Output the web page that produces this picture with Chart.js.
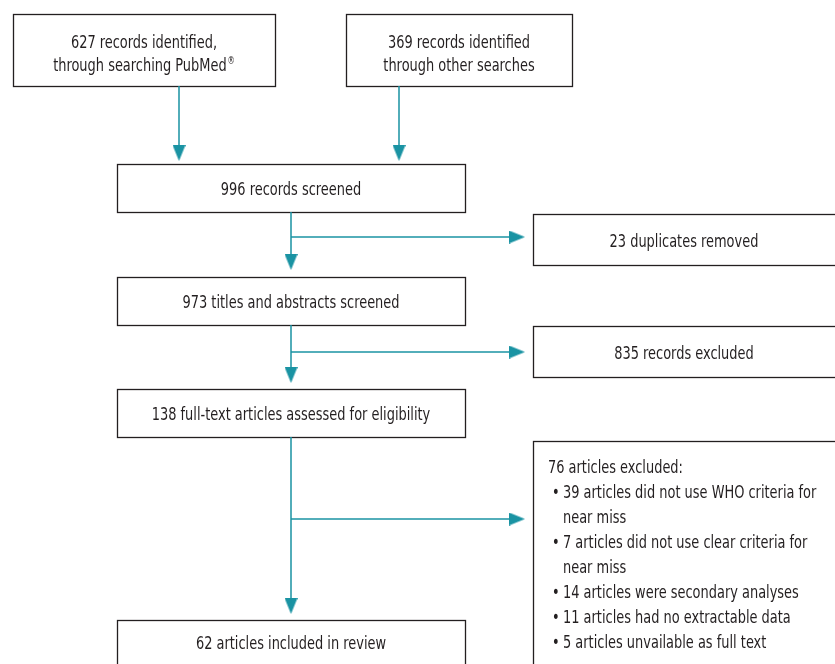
<!DOCTYPE html>
<html>
<head>
<meta charset="utf-8">
<script src="https://cdn.jsdelivr.net/npm/chart.js@4/dist/chart.umd.min.js"></script>
<style>
  body { margin: 0; background: #fff; }
  .wrap { width: 835px; height: 664px; position: relative; }
</style>
</head>
<body>
<div class="wrap"><canvas id="flow"></canvas></div>
<script>
// counts
const identified = [627, 369];
const screened = 996;
const duplicates = 23;
const titlesScreened = 973;
const recordsExcluded = 835;
const fullText = 138;
const articlesExcluded = 76;
const exclusionCounts = [39, 7, 14, 11, 5];
const exclusionReasons = [
  ['articles did not use WHO criteria for', 'near miss'],
  ['articles did not use clear criteria for', 'near miss'],
  ['articles were secondary analyses'],
  ['articles had no extractable data'],
  ['articles unvailable as full text']
];
const included = 62;

const ink = '#231f20';
const teal = '#1a93a3';
const family = '"Liberation Sans Narrow", "DejaVu Sans Condensed", sans-serif';
const font = '18px ' + family;
const squeeze = 0.8; // the original uses a condensed face
const textDy = 2;

// box layout in chart units (x 0..835, y 0..664 top-down)
const boxes = [
  { x0: 13, y0: 14, x1: 275, y1: 86, lines: [identified[0] + ' records identified,', 'through searching PubMed'], sup: [null, '\u00ae'], ly: [41, 64] },
  { x0: 346, y0: 14, x1: 572, y1: 86, lines: [identified[1] + ' records identified', 'through other searches'], ly: [41, 64] },
  { x0: 117, y0: 164, x1: 465, y1: 212, lines: [screened + ' records screened'], ly: [188] },
  { x0: 533, y0: 214, x1: 840, y1: 265, lines: [duplicates + ' duplicates removed'], ly: [240] },
  { x0: 117, y0: 277, x1: 465, y1: 325, lines: [titlesScreened + ' titles and abstracts screened'], ly: [301] },
  { x0: 533, y0: 326, x1: 840, y1: 377, lines: [recordsExcluded + ' records excluded'], ly: [352] },
  { x0: 117, y0: 389, x1: 465, y1: 437, lines: [fullText + ' full-text articles assessed for eligibility'], ly: [413] },
  { x0: 533, y0: 441, x1: 840, y1: 670, list: true },
  { x0: 117, y0: 620, x1: 465, y1: 670, lines: [included + ' articles included in review'], ly: [642] }
];

// connector segments and arrow tips
const connectors = [
  [[179, 86], [179, 150]],
  [[399, 86], [399, 150]],
  [[291, 212], [291, 258]],
  [[291, 237], [514, 237]],
  [[291, 325], [291, 371]],
  [[291, 352], [514, 352]],
  [[291, 437], [291, 603]],
  [[291, 519], [514, 519]]
];
const tipsDown = [[179, 161], [399, 161], [291, 270], [291, 383], [291, 614]];
const tipsRight = [[525, 237], [525, 352], [525, 519]];
const headLen = 16, headW = 13;

function arrowHead(dir) {
  const c = document.createElement('canvas');
  c.width = dir === 'down' ? headW : headLen;
  c.height = dir === 'down' ? headLen : headW;
  const g = c.getContext('2d');
  g.fillStyle = teal;
  g.beginPath();
  if (dir === 'down') {
    g.moveTo(0, 0); g.lineTo(headW, 0); g.lineTo(headW / 2, headLen);
  } else {
    g.moveTo(0, 0); g.lineTo(headLen, headW / 2); g.lineTo(0, headW);
  }
  g.closePath();
  g.fill();
  return c;
}

const datasets = connectors.map(seg => ({
  type: 'line',
  data: seg.map(p => ({ x: p[0], y: p[1] })),
  borderColor: teal,
  borderWidth: 1.5,
  pointRadius: 0,
  fill: false
}));
datasets.push({
  type: 'scatter',
  data: tipsDown.map(p => ({ x: p[0], y: p[1] - headLen / 2 })),
  pointStyle: arrowHead('down'),
  pointRadius: headLen / 2
});
datasets.push({
  type: 'scatter',
  data: tipsRight.map(p => ({ x: p[0] - headLen / 2, y: p[1] })),
  pointStyle: arrowHead('right'),
  pointRadius: headLen / 2
});

function squeezedText(ctx, text, px, py, align, sup) {
  let w = ctx.measureText(text).width * squeeze;
  let supW = 0;
  if (sup) {
    ctx.save();
    ctx.font = '10px ' + family;
    supW = ctx.measureText(sup).width * squeeze + 1;
    ctx.restore();
  }
  let left = px;
  if (align === 'center') left = px - (w + supW) / 2;
  ctx.save();
  ctx.translate(left, py + textDy);
  ctx.scale(squeeze, 1);
  ctx.fillText(text, 0, 0);
  if (sup) {
    ctx.font = '10px ' + family;
    ctx.fillText(sup, w / squeeze + 1, -5);
  }
  ctx.restore();
}

const boxPlugin = {
  id: 'boxes',
  beforeDatasetsDraw(chart) {
    const { ctx, scales: { x, y } } = chart;
    ctx.save();
    ctx.lineWidth = 1.3;
    ctx.strokeStyle = ink;
    ctx.fillStyle = ink;
    ctx.font = font;
    ctx.textBaseline = 'middle';
    ctx.textAlign = 'left';
    boxes.forEach(b => {
      const px0 = x.getPixelForValue(b.x0), px1 = x.getPixelForValue(b.x1);
      const py0 = y.getPixelForValue(b.y0), py1 = y.getPixelForValue(b.y1);
      ctx.strokeRect(Math.round(px0) + 0.5, Math.round(py0) + 0.5, Math.round(px1 - px0), Math.round(py1 - py0));
      if (b.list) {
        let row = 466;
        squeezedText(ctx, articlesExcluded + ' articles excluded:', x.getPixelForValue(548), y.getPixelForValue(row), 'left');
        exclusionCounts.forEach((n, i) => {
          row += 25;
          squeezedText(ctx, '\u2022', x.getPixelForValue(552), y.getPixelForValue(row), 'left');
          exclusionReasons[i].forEach((t, j) => {
            if (j > 0) row += 25;
            squeezedText(ctx, j === 0 ? n + ' ' + t : t, x.getPixelForValue(563), y.getPixelForValue(row), 'left');
          });
        });
      } else {
        const cx = x.getPixelForValue((b.x0 + Math.min(b.x1, 835)) / 2);
        b.lines.forEach((t, i) => squeezedText(ctx, t, cx, y.getPixelForValue(b.ly[i]), 'center', b.sup ? b.sup[i] : null));
      }
    });
    ctx.restore();
  }
};

new Chart(document.getElementById('flow'), {
  type: 'scatter',
  data: { datasets },
  options: {
    responsive: true,
    maintainAspectRatio: false,
    animation: false,
    layout: { padding: 0, autoPadding: false },
    plugins: { legend: { display: false }, tooltip: { enabled: false } },
    scales: {
      x: { type: 'linear', min: 0, max: 835, display: false },
      y: { type: 'linear', min: 0, max: 664, reverse: true, display: false }
    }
  },
  plugins: [boxPlugin]
});
</script>
</body>
</html>
